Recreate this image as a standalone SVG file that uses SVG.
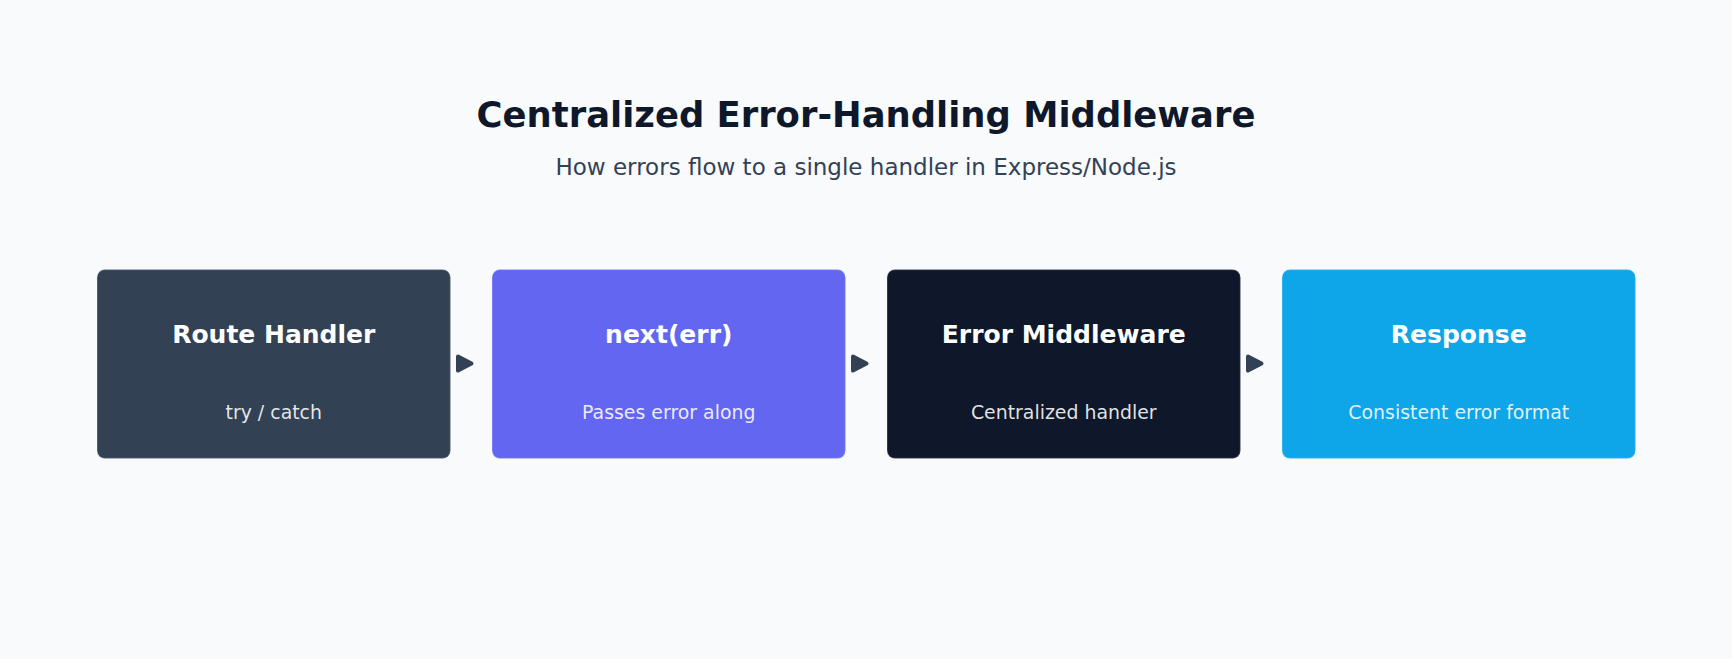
<svg xmlns="http://www.w3.org/2000/svg" width="1732" height="659" viewBox="0 0 1732 659">
<style>
.title{font-family:"DejaVu Sans",sans-serif;font-weight:bold;font-size:35.4px;fill:#0f172a;text-anchor:middle}
.subtitle{font-family:"DejaVu Sans",sans-serif;font-size:23px;fill:#334155;text-anchor:middle}
.box{stroke:#ffffff;stroke-opacity:0.2;stroke-width:1.5}
.nt{font-family:"DejaVu Sans",sans-serif;font-weight:bold;font-size:25px;fill:#ffffff;text-anchor:middle}
.ns{font-family:"DejaVu Sans",sans-serif;font-size:18.9px;fill:#ffffff;fill-opacity:0.88;text-anchor:middle}
.arrow{fill:#334155;stroke:#334155;stroke-width:4;stroke-linejoin:round}
</style>
<rect width="1732" height="659" fill="#f8fafc"/>
<text class="title" x="866" y="127">Centralized Error-Handling Middleware</text>
<text class="subtitle" x="866" y="175">How errors flow to a single handler in Express/Node.js</text>
<g id="node-route-handler">
<rect class="box" x="97" y="269.5" width="353.5" height="189" rx="8" fill="#334155"/>
<text class="nt" x="273.75" y="343">Route Handler</text>
<text class="ns" x="273.75" y="419">try / catch</text>
</g>
<g id="node-next-err">
<rect class="box" x="492" y="269.5" width="353.5" height="189" rx="8" fill="#6366f1"/>
<text class="nt" x="668.75" y="343">next(err)</text>
<text class="ns" x="668.75" y="419">Passes error along</text>
</g>
<g id="node-error-middleware">
<rect class="box" x="887" y="269.5" width="353.5" height="189" rx="8" fill="#0f172a"/>
<text class="nt" x="1063.75" y="343">Error Middleware</text>
<text class="ns" x="1063.75" y="419">Centralized handler</text>
</g>
<g id="node-response">
<rect class="box" x="1282" y="269.5" width="353.5" height="189" rx="8" fill="#0ea5e9"/>
<text class="nt" x="1458.75" y="343">Response</text>
<text class="ns" x="1458.75" y="419">Consistent error format</text>
</g>
<g id="connectors">
<polygon class="arrow" points="458,356.5 471.5,363.5 458,370.5"/>
<polygon class="arrow" points="853,356.5 866.5,363.5 853,370.5"/>
<polygon class="arrow" points="1248,356.5 1261.5,363.5 1248,370.5"/>
</g>
</svg>
